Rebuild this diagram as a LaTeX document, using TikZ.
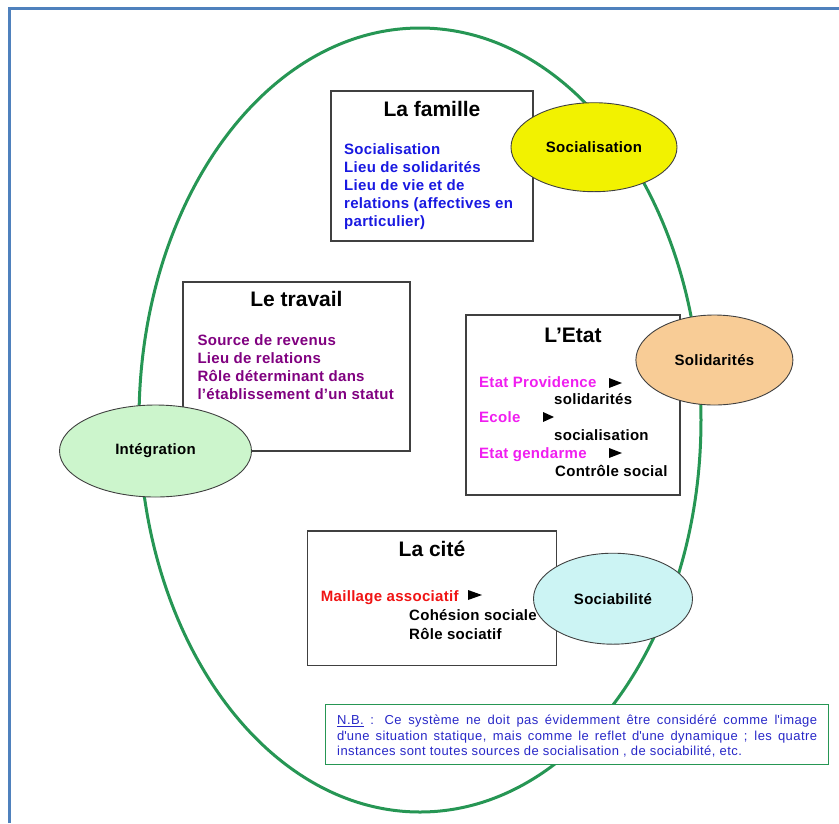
\documentclass[tikz,border=0pt]{standalone}
\usepackage{fontspec}
\setmainfont{Liberation Sans}
\usetikzlibrary{shapes.geometric}

\definecolor{cadrebleu}{RGB}{79,129,189}
\definecolor{vertellipse}{RGB}{38,150,84}
\definecolor{famillebleu}{RGB}{25,25,225}
\definecolor{travailviolet}{RGB}{128,0,128}
\definecolor{etatrose}{RGB}{240,30,240}
\definecolor{citerouge}{RGB}{240,20,20}
\definecolor{notebleu}{RGB}{40,40,200}
\definecolor{jaune}{RGB}{242,242,0}
\definecolor{peche}{RGB}{248,204,150}
\definecolor{vertpale}{RGB}{204,245,204}
\definecolor{cyanpale}{RGB}{204,244,244}

\tikzset{
  boite/.style={draw=black!75, line width=1.3pt, fill=white},
  bulle/.style={ellipse, draw=black!75, line width=0.9pt, inner sep=0pt,
    font=\fontsize{15}{15}\selectfont\bfseries\addfontfeatures{LetterSpace=2}},
  titre/.style={anchor=base, inner sep=0pt, font=\fontsize{21}{21}\selectfont\bfseries},
  ligne/.style={anchor=base west, inner sep=0pt,
    font=\fontsize{15}{15}\selectfont\bfseries\addfontfeatures{LetterSpace=2}},
  note/.style={anchor=base west, inner sep=0pt, text=notebleu,
    font=\fontsize{13}{13}\selectfont\addfontfeatures{LetterSpace=3.5}},
}

\begin{document}
\begin{tikzpicture}[x=1pt, y=-1pt]
    \useasboundingbox (0,0) rectangle (839,823);

    % 1. Cadre bleu
    \draw[cadrebleu, line width=3pt] (9.5,823) -- (9.5,8.5) -- (839,8.5);

    % 2. Grande ellipse verte
    \draw[vertellipse, line width=3pt] (420,420) ellipse [x radius=281, y radius=392];

    % 3. La famille
    \draw[boite] (331,91) rectangle (533,241);
    \node[titre] (famille) at (432,116.5) {La famille};
    \foreach \t [count=\i from 0] in {Socialisation, Lieu de solidarités, Lieu de vie et de,
        relations (affectives en, particulier)}
      \node[ligne, text=famillebleu] (famille-\i) at (344,154+18*\i) {\t};

    % 4. Le travail
    \draw[boite] (183,282) rectangle (410,451);
    \node[titre] (travail) at (296.5,306.5) {Le travail};
    \foreach \t [count=\i from 0] in {Source de revenus, Lieu de relations,
        Rôle déterminant dans, l’établissement d’un statut}
      \node[ligne, text=travailviolet] (travail-\i) at (197.3,345.6+18.1*\i) {\t};

    % 5. L'Etat
    \draw[boite] (466,315) rectangle (680,495);
    \node[titre] (etat) at (573,342.3) {L’Etat};
    \node[ligne, text=etatrose] (providence) at (479,387.3) {Etat Providence};
    \node[ligne] (etat-solidarites) at (554,404.3) {solidarités};
    \node[ligne, text=etatrose] (ecole) at (479,422.3) {Ecole};
    \node[ligne] (etat-socialisation) at (554,440.7) {socialisation};
    \node[ligne, text=etatrose] (gendarme) at (479,458.3) {Etat gendarme};
    \node[ligne] (controle) at (555,476.7) {Contrôle social};

    % 6. La cité
    \draw[boite] (307.5,531) rectangle (556.5,665.5);
    \node[titre] (cite) at (432,556.7) {La cité};
    \node[ligne, text=citerouge] (maillage) at (320.7,601.7) {Maillage associatif};
    \node[ligne] (cohesion) at (409,620.7) {Cohésion sociale};
    \node[ligne] (role) at (409,639) {Rôle sociatif};

    % 7. Petites flèches noires
    \foreach \x/\y/\w in {609/383/13, 543/417/11, 609/453/13, 468/595/14}
      \fill (\x,\y-5) -- ++(\w,5) -- ++(-\w,5) -- cycle;

    % 8. Les quatre bulles
    \node[bulle, fill=jaune, minimum width=166, minimum height=89] (socialisation) at (594,147.2) {Socialisation};
    \node[bulle, fill=peche, minimum width=157, minimum height=90] (solidarites) at (714.4,360) {Solidarités};
    \node[bulle, fill=vertpale, minimum width=192, minimum height=92] (integration) at (155.5,451) {Intégration};
    \node[bulle, fill=cyanpale, minimum width=159, minimum height=91] (sociabilite) at (613,598.7) {Sociabilité};

    % 9. Note N.B.
    \draw[draw=vertellipse, line width=1pt, fill=white] (325,704) rectangle (828.5,764);
    \node[note] (nb-1) at (337,724.3) {\makebox[480pt][s]{\underline{N.B.} : Ce système ne doit pas évidemment être considéré comme l\textquotesingle image}};
    \node[note] (nb-2) at (337,740) {\makebox[480pt][s]{d\textquotesingle une situation statique, mais comme le reflet d\textquotesingle une dynamique ; les quatre}};
    \node[note] (nb-3) at (337,755.7) {instances sont toutes sources de socialisation , de sociabilité, etc.};
\end{tikzpicture}
\end{document}
